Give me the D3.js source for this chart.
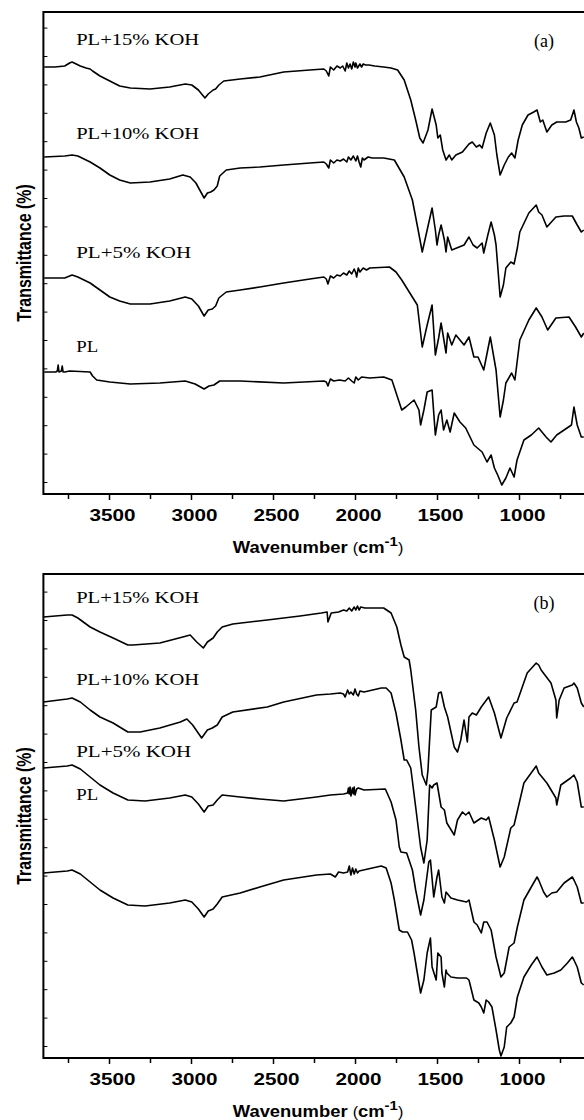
<!DOCTYPE html>
<html>
<head>
<meta charset="utf-8">
<script src="https://cdn.jsdelivr.net/npm/d3@7/dist/d3.min.js"></script>
<style>
  body { margin: 0; background: #fff; }
  svg { display: block; }
</style>
</head>
<body>
<div id="chart"></div>
<script>
//Ejes
const wnMajor = [3500, 3000, 2500, 2000, 1500, 1000];
const wnMinor = [3750, 3250, 2750, 2250, 1750, 1250, 750];
const seriesNames = ['PL+15% KOH', 'PL+10% KOH', 'PL+5% KOH', 'PL'];

//Panel (a): [wavenumber, transmittance (u.a., con desplazamiento)]
const a15 = [[3895,427],[3830,427],[3770,428],[3740,431],[3725,432],[3700,430],[3675,428],[3640,426],[3615,425],[3600,423],[3555,418],[3495,413],[3435,408],[3370,406],[3250,405],[3130,407],[3035,410],[2995,409],[2955,404],[2925,398],[2915,396],[2895,400],[2865,404],[2850,405],[2830,409],[2800,413],[2700,415],[2580,417],[2435,422],[2275,424],[2190,425],[2175,423],[2160,418],[2150,427],[2130,424],[2110,428],[2090,426],[2075,428],[2060,423],[2050,431],[2040,426],[2030,430],[2020,425],[2010,432],[2000,427],[1995,431],[1985,426],[1970,430],[1960,427],[1950,430],[1935,429],[1915,429],[1880,428],[1825,427],[1780,426],[1740,424],[1700,414],[1660,394],[1630,374],[1605,356],[1585,351],[1555,364],[1530,385],[1505,369],[1495,356],[1480,359],[1465,344],[1445,334],[1425,339],[1410,334],[1385,339],[1345,342],[1305,350],[1285,352],[1260,347],[1240,349],[1225,346],[1200,361],[1175,371],[1150,359],[1135,339],[1115,319],[1090,329],[1065,337],[1045,341],[1025,336],[1005,354],[980,369],[945,379],[910,382],[890,384],[870,372],[855,374],[830,362],[800,369],[770,372],[715,372],[685,374],[665,384],[650,372],[635,366],[620,356],[605,357]];
const a10 = [[3895,337],[3770,338],[3725,339],[3690,338],[3615,332],[3555,326],[3495,319],[3435,314],[3370,311],[3250,312],[3130,315],[3050,319],[3005,317],[2970,311],[2940,302],[2920,296],[2900,301],[2880,302],[2860,304],[2840,308],[2825,318],[2785,324],[2700,326],[2580,327],[2435,329],[2275,331],[2190,332],[2175,330],[2160,326],[2150,334],[2130,331],[2110,334],[2090,333],[2070,335],[2050,332],[2040,337],[2025,334],[2010,338],[1995,333],[1985,338],[1975,332],[1965,327],[1955,336],[1945,334],[1920,337],[1895,336],[1825,336],[1760,334],[1700,317],[1650,294],[1615,264],[1590,242],[1560,264],[1530,286],[1510,264],[1500,249],[1490,259],[1475,269],[1455,254],[1445,242],[1435,257],[1410,244],[1365,247],[1335,249],[1305,257],[1280,249],[1255,246],[1225,251],[1215,241],[1190,259],[1170,272],[1150,259],[1140,249],[1115,197],[1095,209],[1080,226],[1050,232],[1030,230],[1010,246],[995,262],[940,281],[895,289],[880,282],[860,279],[830,267],[775,277],[725,278],[675,278],[645,269],[620,262],[605,264]];
const a5 = [[3895,216],[3770,216],[3725,219],[3690,217],[3615,211],[3555,204],[3495,197],[3435,193],[3370,190],[3250,190],[3130,193],[3035,197],[2995,195],[2955,188],[2920,178],[2895,184],[2870,185],[2850,188],[2830,196],[2785,202],[2700,204],[2580,207],[2435,211],[2275,215],[2190,217],[2175,215],[2165,210],[2150,218],[2130,216],[2110,219],[2090,218],[2070,221],[2050,219],[2035,223],[2020,220],[2005,225],[1995,221],[1990,217],[1980,226],[1970,222],[1950,226],[1930,224],[1910,226],[1790,227],[1750,222],[1715,214],[1620,189],[1590,147],[1560,169],[1530,189],[1510,139],[1490,156],[1475,171],[1445,141],[1435,161],[1410,149],[1385,159],[1335,149],[1305,157],[1275,137],[1250,137],[1215,124],[1175,157],[1140,124],[1115,77],[1095,94],[1080,111],[1045,121],[1025,114],[995,154],[940,174],[895,186],[860,177],[825,164],[775,176],[695,177],[655,167],[620,157],[605,161]];
const aPL = [[3895,122],[3825,122],[3815,123],[3810,129],[3805,122],[3790,123],[3785,128],[3780,122],[3770,122],[3740,123],[3615,122],[3600,118],[3575,114],[3495,112],[3370,110],[3190,111],[3035,113],[2975,110],[2920,105],[2890,108],[2860,109],[2825,113],[2700,113],[2435,111],[2190,113],[2175,112],[2165,108],[2150,115],[2130,113],[2095,114],[2060,113],[2040,116],[2020,113],[2005,111],[1995,117],[1980,114],[1960,117],[1910,116],[1825,117],[1775,114],[1745,99],[1715,84],[1690,87],[1640,94],[1610,84],[1600,69],[1580,84],[1560,102],[1530,104],[1510,59],[1490,79],[1475,84],[1460,64],[1440,74],[1420,62],[1395,81],[1360,72],[1325,66],[1275,49],[1225,42],[1195,32],[1170,39],[1150,26],[1130,19],[1105,9],[1080,16],[1055,26],[1030,17],[1012,34],[970,54],[925,59],[880,66],[835,57],[805,52],[770,59],[725,64],[680,69],[665,87],[645,69],[620,57],[605,57]];

//Panel (b)
const b15 = [[3900,441],[3755,443],[3725,443],[3690,440],[3615,431],[3555,426],[3475,420],[3385,413],[3355,413],[3190,415],[3050,421],[3005,423],[2965,416],[2925,410],[2900,416],[2865,420],[2840,426],[2810,431],[2745,434],[2535,438],[2335,442],[2205,445],[2170,446],[2165,436],[2145,445],[2100,446],[2070,448],[2050,447],[2035,450],[2020,447],[2005,451],[1995,448],[1985,452],[1975,448],[1965,451],[1940,450],[1905,450],[1825,450],[1780,445],[1745,431],[1720,413],[1700,401],[1670,398],[1660,388],[1630,348],[1610,311],[1590,283],[1565,273],[1555,288],[1535,348],[1505,351],[1490,365],[1475,366],[1455,351],[1435,341],[1395,311],[1375,306],[1355,318],[1335,338],[1315,316],[1305,341],[1285,345],[1260,343],[1230,351],[1185,361],[1150,345],[1110,320],[1075,340],[1030,355],[1012,356],[950,385],[895,395],[880,393],[865,388],[805,375],[775,358],[770,340],[755,358],[725,370],[675,373],[665,375],[645,370],[620,355],[605,351]];
const b10 = [[3900,356],[3755,359],[3725,360],[3675,356],[3615,348],[3555,341],[3475,335],[3385,326],[3310,326],[3190,330],[3065,336],[3025,339],[2990,333],[2935,320],[2900,328],[2870,330],[2840,333],[2810,341],[2745,346],[2535,351],[2435,356],[2235,363],[2150,364],[2090,365],[2070,364],[2060,361],[2045,368],[2035,364],[2025,366],[2010,363],[2000,369],[1990,364],[1980,362],[1970,367],[1945,366],[1840,370],[1810,370],[1780,365],[1750,345],[1720,318],[1700,298],[1685,298],[1660,290],[1630,251],[1600,211],[1580,195],[1560,218],[1545,273],[1530,270],[1520,273],[1500,275],[1475,251],[1455,248],[1440,235],[1395,223],[1375,238],[1345,246],[1325,243],[1305,246],[1275,235],[1230,240],[1200,238],[1185,241],[1150,218],[1115,191],[1090,201],[1050,230],[1030,233],[970,275],[895,292],[880,285],[830,275],[775,260],[770,253],[745,273],[685,280],[665,283],[645,276],[620,251],[605,251]];
const b5 = [[3900,290],[3755,292],[3725,293],[3675,289],[3615,281],[3555,273],[3475,265],[3385,258],[3280,257],[3130,260],[3035,263],[2995,261],[2955,254],[2920,246],[2895,252],[2865,253],[2840,258],[2810,263],[2700,261],[2580,259],[2435,257],[2235,261],[2150,263],[2070,264],[2045,265],[2040,270],[2035,264],[2030,271],[2025,262],[2015,270],[2010,264],[2005,271],[2000,263],[1990,269],[1980,270],[1945,268],[1815,269],[1780,256],[1750,238],[1730,211],[1720,206],[1685,205],[1650,188],[1630,168],[1600,143],[1580,158],[1550,196],[1540,198],[1520,161],[1500,181],[1490,188],[1470,161],[1455,155],[1445,166],[1415,160],[1375,158],[1320,156],[1305,158],[1275,136],[1255,133],[1230,125],[1215,136],[1195,136],[1170,128],[1140,101],[1110,81],[1090,85],[1060,111],[1030,115],[1010,131],[970,158],[925,171],[890,181],[880,178],[850,166],[830,161],[800,165],[770,166],[725,175],[675,181],[665,178],[645,171],[620,155],[605,155]];
const bPL = [[3900,185],[3755,187],[3725,188],[3675,184],[3615,176],[3555,168],[3475,160],[3385,153],[3280,152],[3130,155],[3035,158],[2995,156],[2955,149],[2920,141],[2895,147],[2865,149],[2840,154],[2810,161],[2700,165],[2580,171],[2435,178],[2235,183],[2150,184],[2120,181],[2100,186],[2070,185],[2045,186],[2035,192],[2025,183],[2015,190],[2005,184],[1995,189],[1985,185],[1975,187],[1840,192],[1810,190],[1780,175],[1760,158],[1730,128],[1710,126],[1680,126],[1655,118],[1640,105],[1620,85],[1600,65],[1580,78],[1560,105],[1540,120],[1530,91],[1505,78],[1495,105],[1475,101],[1470,85],[1455,71],[1445,88],[1440,85],[1415,81],[1375,80],[1320,80],[1305,78],[1275,58],[1245,55],[1230,51],[1215,45],[1200,58],[1185,56],[1165,51],[1140,28],[1120,8],[1110,2],[1090,11],[1075,31],[1050,35],[1030,41],[1010,61],[970,81],[925,93],[890,101],[860,91],[830,83],[785,85],[745,88],[705,95],[675,101],[665,98],[645,91],[620,75],[605,73]];

const W = 584, H = 1120;

const panels = [
  { tag: '(a)', top: 12, bottom: 494, ymax: 482, series: [a15, a10, a5, aPL],
    labelY: [449, 355, 236, 142] },
  { tag: '(b)', top: 574, bottom: 1058, ymax: 484, series: [b15, b10, b5, bPL],
    labelY: [455, 373, 301, 258] }
];

const svg = d3.select('#chart').append('svg')
  .attr('width', W).attr('height', H);

//Eje X comun (invertido)
const x = d3.scaleLinear().domain([3900, 600]).range([43.4, 584.6]);

panels.forEach(function(p) {
  const y = d3.scaleLinear().domain([0, p.ymax]).range([p.bottom, p.top]);
  const g = svg.append('g');

  //Curvas
  const line = d3.line()
    .x(function(d) { return x(d[0]); })
    .y(function(d) { return y(d[1]); });

  g.selectAll('path.spec')
    .data(p.series)
    .enter()
    .append('path')
      .attr('class', 'spec')
      .attr('d', line)
      .attr('fill', 'none')
      .attr('stroke', '#000')
      .attr('stroke-width', 1.6)
      .attr('stroke-linejoin', 'round');

  //Marco
  g.append('rect')
    .attr('x', x(3900)).attr('y', p.top)
    .attr('width', x(600) - x(3900) + 4).attr('height', p.bottom - p.top)
    .attr('fill', 'none').attr('stroke', '#000').attr('stroke-width', 2);

  //Ticks eje X
  const xAxis = d3.axisBottom(x).tickValues(wnMajor).tickSize(6).tickPadding(5)
    .tickFormat(d3.format('d'));
  const ax = g.append('g')
    .attr('transform', 'translate(0,' + p.bottom + ')')
    .call(xAxis);
  ax.select('.domain').remove();
  ax.selectAll('line').attr('stroke-width', 1.5);
  ax.selectAll('text')
    .attr('fill', '#000')
    .attr('x', 3)
    .attr('font-family', 'Liberation Sans, Arial, sans-serif')
    .attr('font-weight', 'bold')
    .attr('font-size', 17)
    .attr('textLength', 46)
    .attr('lengthAdjust', 'spacingAndGlyphs')
    .attr('dy', '0.95em');

  const axm = g.append('g')
    .attr('transform', 'translate(0,' + p.bottom + ')')
    .call(d3.axisBottom(x).tickValues(wnMinor).tickSize(5).tickFormat(''));
  axm.select('.domain').remove();
  axm.selectAll('line').attr('stroke-width', 1.5);

  //Ticks eje Y (hacia dentro, sin etiquetas)
  const yTicks = d3.range(12, p.ymax, 28.4);
  const ay = g.append('g')
    .attr('transform', 'translate(' + x(3900) + ',0)')
    .call(d3.axisRight(y).tickValues(yTicks).tickSize(4).tickFormat(''));
  ay.select('.domain').remove();
  ay.selectAll('line').attr('stroke-width', 1);

  //Etiquetas de las curvas
  g.selectAll('text.lab')
    .data(seriesNames)
    .enter()
    .append('text')
      .attr('class', 'lab')
      .attr('x', x(3700))
      .attr('y', function(d, i) { return y(p.labelY[i]); })
      .attr('font-family', 'Liberation Serif, Times New Roman, serif')
      .attr('font-size', 17.5)
      .attr('textLength', function(d) { return d === 'PL' ? 22 : (d === 'PL+5% KOH' ? 115 : 123); })
      .attr('lengthAdjust', 'spacingAndGlyphs')
      .text(function(d) { return d; });

  g.append('text')
    .attr('x', 544).attr('y', p.top + 35)
    .attr('text-anchor', 'middle')
    .attr('font-family', 'Liberation Serif, Times New Roman, serif')
    .attr('font-size', 18)
    .text(p.tag);

  //Titulos de ejes
  const xt = g.append('text')
    .attr('transform', 'translate(318,' + (p.bottom + 59) + ') scale(1.15,1)')
    .attr('text-anchor', 'middle')
    .attr('font-family', 'Liberation Sans, Arial, sans-serif')
    .attr('font-size', 16)
    .attr('fill', '#000');
  xt.append('tspan').attr('font-weight', 'bold').text('Wavenumber ');
  xt.append('tspan').attr('font-size', 14).text('(');
  xt.append('tspan').attr('font-weight', 'bold').text('cm');
  xt.append('tspan').attr('font-weight', 'bold').attr('font-size', 13).attr('dy', -7).text('-1');
  xt.append('tspan').attr('font-size', 14).attr('dy', 7).text(')');

  const cy = (p.top + p.bottom) / 2;
  g.append('text')
    .attr('transform', 'translate(31,' + cy + ') scale(1.3,1) rotate(-90)')
    .attr('text-anchor', 'middle')
    .attr('font-family', 'Liberation Sans, Arial, sans-serif')
    .attr('font-weight', 'bold')
    .attr('font-size', 16)
    .text('Transmittance (%)');
});
</script>
</body>
</html>
